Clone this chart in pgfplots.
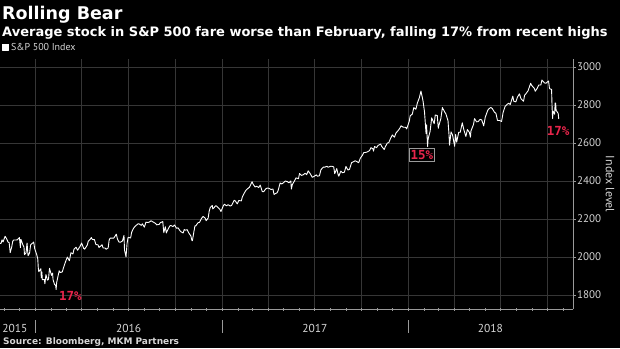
\documentclass[border=0pt]{standalone}
\usepackage{pgfplots}
\usepackage{pgfplotstable}
\pgfplotsset{compat=1.18}
\usepackage{fontspec}
\setmainfont{DejaVu Sans}
\newfontfamily\tickfont{PT Sans}
\newfontfamily\annfont{DejaVu Sans Mono}
\definecolor{gridc}{HTML}{363636}
\definecolor{axc}{HTML}{9A9A9A}
\definecolor{txt}{HTML}{D6D6D6}
\definecolor{redc}{HTML}{E8254B}

% x = days since 2015-01-01
\pgfplotstableread{
day close
296 2072
298 2071
300 2090
302 2079
306 2109
308 2100
312 2078
314 2075
316 2023
319 2053
321 2083
323 2089
327 2089
330 2090
334 2102
336 2049
337 2092
341 2063
343 2052
344 2012
347 2021
349 2073
351 2006
354 2021
356 2064
362 2078
364 2044
368 2012
370 1990
371 1943
372 1922
376 1938
377 1890
378 1921
379 1880
383 1881
384 1859
386 1907
389 1878
391 1882
393 1940
397 1903
399 1915
400 1880
403 1854
405 1852
406 1829
407 1865
412 1927
414 1918
418 1921
421 1948
425 1979
428 1999
432 1980
435 2022
439 2016
441 2041
445 2051
448 2035
453 2056
456 2073
460 2045
462 2041
467 2062
469 2083
473 2094
475 2102
477 2092
481 2091
484 2065
488 2064
490 2050
494 2059
496 2064
498 2047
502 2047
504 2040
508 2048
510 2090
512 2099
517 2099
519 2099
524 2120
526 2096
529 2079
532 2077
536 2084
539 2113
540 2037
543 2000
545 2071
547 2103
552 2100
554 2130
558 2152
561 2162
566 2173
568 2175
573 2166
575 2174
579 2157
582 2183
586 2181
589 2184
592 2190
596 2184
601 2176
603 2169
608 2171
610 2180
615 2186
617 2128
620 2159
622 2126
624 2139
629 2164
631 2165
635 2160
638 2168
642 2151
645 2153
649 2137
651 2132
655 2126
657 2144
659 2141
663 2143
666 2126
670 2111
672 2088
673 2085
676 2132
678 2163
680 2164
684 2180
687 2182
691 2203
694 2213
698 2205
700 2191
704 2205
706 2241
708 2260
712 2271
713 2253
715 2258
719 2270
722 2264
727 2250
729 2239
734 2271
736 2277
740 2269
743 2275
747 2268
750 2271
755 2298
757 2295
761 2279
764 2297
769 2295
771 2316
775 2337
778 2351
783 2363
785 2367
790 2396
792 2383
796 2368
799 2372
803 2365
806 2378
810 2344
813 2344
817 2359
820 2363
824 2360
827 2355
831 2357
833 2329
839 2338
841 2349
845 2389
848 2384
852 2391
855 2399
859 2397
862 2390
866 2400
867 2357
869 2381
874 2404
876 2416
881 2412
883 2439
887 2429
890 2432
894 2440
897 2433
900 2453
904 2438
908 2419
911 2423
916 2432
918 2425
922 2427
925 2459
930 2473
932 2472
937 2477
939 2472
944 2477
946 2477
950 2474
952 2438
956 2465
959 2430
960 2425
964 2452
967 2443
971 2446
974 2476
978 2457
981 2461
985 2496
988 2500
992 2506
995 2502
999 2496
1002 2519
1006 2534
1009 2549
1013 2550
1016 2553
1020 2559
1023 2575
1027 2569
1028 2557
1030 2581
1034 2575
1037 2587
1042 2594
1044 2582
1049 2565
1051 2579
1055 2599
1058 2602
1062 2627
1065 2642
1069 2630
1072 2652
1076 2664
1079 2675
1082 2690
1086 2683
1091 2682
1093 2674
1098 2713
1100 2743
1104 2751
1107 2786
1111 2777
1114 2810
1118 2839
1121 2873
1125 2822
1128 2762
1131 2649
1132 2695
1134 2581
1135 2620
1139 2662
1142 2732
1147 2701
1149 2747
1153 2744
1155 2677
1156 2691
1160 2728
1163 2786
1167 2765
1170 2752
1174 2717
1176 2643
1177 2588
1180 2658
1183 2641
1187 2582
1189 2644
1191 2604
1195 2656
1198 2656
1202 2706
1205 2670
1209 2634
1212 2670
1216 2655
1218 2630
1219 2663
1224 2697
1226 2728
1230 2711
1233 2712
1237 2724
1240 2721
1244 2690
1247 2735
1252 2772
1254 2779
1258 2787
1261 2780
1265 2762
1268 2755
1271 2718
1275 2718
1279 2713
1282 2760
1286 2793
1289 2801
1293 2809
1296 2802
1301 2846
1303 2819
1307 2816
1310 2840
1314 2858
1317 2833
1322 2819
1324 2850
1328 2863
1331 2875
1336 2914
1338 2902
1343 2888
1345 2872
1349 2888
1352 2905
1356 2905
1358 2931
1363 2916
1366 2914
1371 2926
1373 2886
1377 2881
1378 2786
1379 2728
1380 2767
1383 2751
1384 2810
1385 2809
1386 2768
1387 2767
1390 2755
1391 2726
}\spx

\begin{document}
\begin{tikzpicture}
\fill[black] (0pt,0pt) rectangle (620pt,348pt);
\useasboundingbox (0pt,0pt) rectangle (620pt,348pt);
\node[anchor=base west, inner sep=0pt, text=white, font=\bfseries\fontsize{17.5}{20}\selectfont] at (2pt,328pt) {Rolling Bear};
\node[anchor=base west, inner sep=0pt, text=white, font=\bfseries\fontsize{13}{15}\selectfont] at (2pt,311pt) {Average stock in S\&P 500 fare worse than February, falling 17\% from recent highs};
\node[anchor=base west, inner sep=0pt, text=txt, font=\bfseries\fontsize{9}{10}\selectfont] at (3pt,4pt) {Source: Bloomberg, MKM Partners};
\begin{axis}[
  at={(0pt,39pt)}, anchor=south west,
  width=573pt, height=249.7pt, scale only axis,
  xmin=296, xmax=1419,
  ymin=1726, ymax=3040,
  axis x line*=bottom, axis y line*=right,
  axis line style={axc, line width=0.6pt, -},
  xtick={365,456,547,639,731,821,912,1004,1096,1186,1277,1369},
  minor xtick={304,334,396,425,486,517,578,609,670,700,762,790,851,882,943,974,1035,1065,1127,1155,1216,1247,1308,1339,1400},
  xticklabels={},
  xtick align=center,
  ytick={1800,2000,...,3000},
  ytick align=outside,
  yticklabel pos=right,
  major tick length=3pt, minor tick length=3pt,
  tick style={axc, line width=0.5pt},
  xmajorgrids, ymajorgrids,
  major grid style={gridc, line width=0.6pt},
  yticklabel style={font=\tickfont\fontsize{11}{11}\selectfont, text=txt, inner sep=1pt},
  /pgf/number format/1000 sep={},
  /pgf/number format/assume math mode=true,
  ylabel={Index level},
  ylabel style={rotate=180, font=\tickfont\fontsize{12}{12}\selectfont, text=txt},
  legend style={at={(0,1)}, anchor=west, xshift=2pt, yshift=12pt, draw=none, fill=none, text=txt,
    font=\tickfont\fontsize{10}{10}\selectfont, inner sep=0pt, legend cell align=left,
    /tikz/every even column/.append style={column sep=1pt}},
  legend image code/.code={\fill[white] (0pt,-3pt) rectangle (6pt,3pt);},
  clip mode=individual,
]
\addplot[white, line width=0.9pt, line join=round] table[x=day, y=close] {\spx};
\addlegendentry{S\&P 500 Index}
% year separators and labels
\draw[axc, line width=0.6pt] ([yshift=-11pt]axis cs:365,1726) -- ([yshift=-24pt]axis cs:365,1726);
\draw[axc, line width=0.6pt] ([yshift=-11pt]axis cs:731,1726) -- ([yshift=-24pt]axis cs:731,1726);
\draw[axc, line width=0.6pt] ([yshift=-11pt]axis cs:1096,1726) -- ([yshift=-24pt]axis cs:1096,1726);
\node[text=txt, font=\tickfont\fontsize{11.5}{11.5}\selectfont] at ([yshift=-19pt]axis cs:325,1726) {2015};
\node[text=txt, font=\tickfont\fontsize{11.5}{11.5}\selectfont] at ([yshift=-19pt]axis cs:548,1726) {2016};
\node[text=txt, font=\tickfont\fontsize{11.5}{11.5}\selectfont] at ([yshift=-19pt]axis cs:913,1726) {2017};
\node[text=txt, font=\tickfont\fontsize{11.5}{11.5}\selectfont] at ([yshift=-19pt]axis cs:1257,1726) {2018};
% annotations
\node[text=redc, font=\annfont\bfseries\fontsize{12.5}{12.5}\selectfont, inner sep=1pt] at (axis cs:434,1793) {17\%};
\node[text=redc, font=\annfont\bfseries\fontsize{12.5}{12.5}\selectfont, draw=axc, fill=black, line width=0.6pt, inner sep=1.5pt] at (axis cs:1123,2537) {15\%};
\node[text=redc, font=\annfont\bfseries\fontsize{12.5}{12.5}\selectfont, inner sep=1pt] at (axis cs:1390,2663) {17\%};
\end{axis}
\end{tikzpicture}
\end{document}
